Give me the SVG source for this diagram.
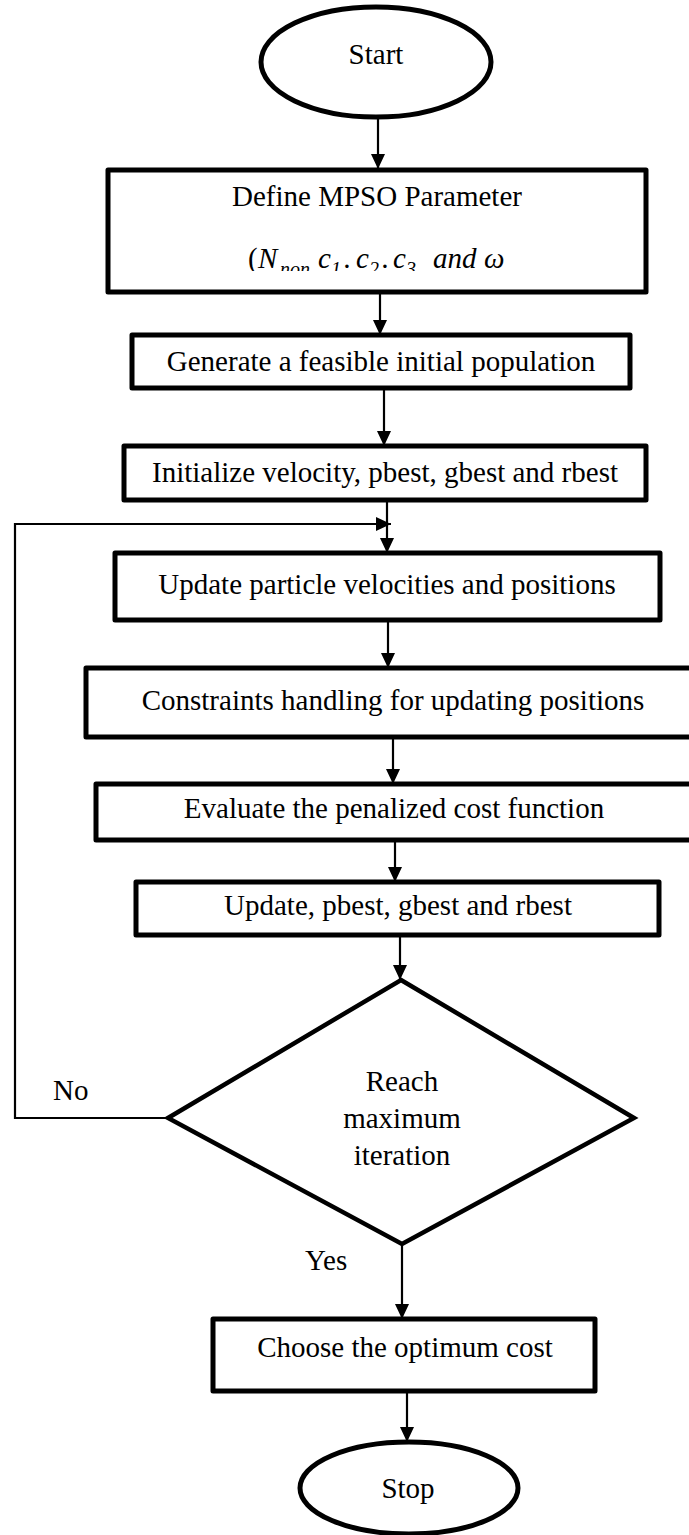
<svg xmlns="http://www.w3.org/2000/svg" width="689" height="1535" viewBox="0 0 689 1535">
  <defs>
    <style>
      .box { fill: #ffffff; stroke: #000000; stroke-width: 5; stroke-linejoin: round; }
      .term { fill: #ffffff; stroke: #000000; stroke-width: 5; }
      .dec { fill: #ffffff; stroke: #000000; stroke-width: 4.5; stroke-linejoin: miter; }
      .lbl { font-family: "Liberation Serif", "Times New Roman", serif; font-size: 29px; fill: #000000; text-anchor: middle; }
      .side { font-family: "Liberation Serif", "Times New Roman", serif; font-size: 29px; fill: #000000; }
      .math { font-family: "Liberation Serif", "Times New Roman", serif; font-style: italic; font-size: 29px; fill: #000000; }
      .sub { font-size: 20px; }
      .conn { fill: none; stroke: #000000; stroke-width: 2.2; }
    </style>
    <marker id="ah" viewBox="0 0 15 14" refX="15" refY="7" markerWidth="15" markerHeight="14" orient="auto" markerUnits="userSpaceOnUse">
      <path d="M0,0 L15,7 L0,14 z" fill="#000000"/>
    </marker>
    <!-- the parameter line sits in a frame that cuts it off just under its baseline -->
    <clipPath id="paramClip">
      <rect x="110" y="230" width="534" height="41"/>
    </clipPath>
  </defs>

  <!-- connectors -->
  <g id="connectors">
    <line class="conn" x1="378" y1="118" x2="378" y2="169" marker-end="url(#ah)"/>
    <line class="conn" x1="380" y1="292" x2="380" y2="335" marker-end="url(#ah)"/>
    <line class="conn" x1="384" y1="388" x2="384" y2="446" marker-end="url(#ah)"/>
    <line class="conn" x1="387" y1="500" x2="387" y2="553" marker-end="url(#ah)"/>
    <line class="conn" x1="388" y1="620" x2="388" y2="668" marker-end="url(#ah)"/>
    <line class="conn" x1="393" y1="737" x2="393" y2="784" marker-end="url(#ah)"/>
    <line class="conn" x1="395" y1="840" x2="395" y2="882" marker-end="url(#ah)"/>
    <line class="conn" x1="400" y1="935" x2="400" y2="980" marker-end="url(#ah)"/>
    <line class="conn" x1="402" y1="1244" x2="402" y2="1319" marker-end="url(#ah)"/>
    <line class="conn" x1="407" y1="1391" x2="407" y2="1442" marker-end="url(#ah)"/>
    <!-- loop back from the decision to the velocity update -->
    <polyline class="conn" points="168,1118 15,1118 15,524 391,524" marker-end="url(#ah)"/>
  </g>

  <g id="start">
    <ellipse class="term" cx="376" cy="62" rx="115" ry="55"/>
    <text class="lbl" x="376" y="64">Start</text>
  </g>

  <g id="define">
    <rect class="box" x="108" y="170" width="538" height="122"/>
    <text class="lbl" x="377" y="206">Define MPSO Parameter</text>
    <g clip-path="url(#paramClip)">
      <text class="math" y="268"><tspan x="248" font-style="normal">(</tspan><tspan x="258">N</tspan><tspan class="sub" x="280" dy="8">non</tspan><tspan x="318" dy="-8">c</tspan><tspan class="sub" x="331" dy="8">1</tspan><tspan x="344" dy="-8">.</tspan><tspan x="356">c</tspan><tspan class="sub" x="369" dy="8">2</tspan><tspan x="382" dy="-8">.</tspan><tspan x="393">c</tspan><tspan class="sub" x="406" dy="8">3</tspan><tspan x="433" dy="-8">and</tspan><tspan x="484">ω</tspan></text>
    </g>
  </g>

  <g id="generate">
    <rect class="box" x="132" y="335" width="498" height="53"/>
    <text class="lbl" x="381" y="371">Generate a feasible initial population</text>
  </g>

  <g id="initialize">
    <rect class="box" x="124" y="446" width="522" height="54"/>
    <text class="lbl" x="385" y="482">Initialize velocity, pbest, gbest and rbest</text>
  </g>

  <g id="update-particles">
    <rect class="box" x="115" y="553" width="545" height="67"/>
    <text class="lbl" x="387" y="594">Update particle velocities and positions</text>
  </g>

  <g id="constraints">
    <rect class="box" x="86" y="668" width="620" height="69"/>
    <text class="lbl" x="393" y="710">Constraints handling for updating positions</text>
  </g>

  <g id="evaluate">
    <rect class="box" x="96" y="784" width="610" height="56"/>
    <text class="lbl" x="394" y="818">Evaluate the penalized cost function</text>
  </g>

  <g id="update-best">
    <rect class="box" x="136" y="882" width="523" height="53"/>
    <text class="lbl" x="398" y="915">Update, pbest, gbest and rbest</text>
  </g>

  <g id="decision">
    <polygon class="dec" points="401,980 634,1118 402,1244 168,1118"/>
    <text class="lbl" x="402" y="1091">Reach</text>
    <text class="lbl" x="402" y="1128">maximum</text>
    <text class="lbl" x="402" y="1165">iteration</text>
  </g>

  <g id="labels">
    <text class="side" x="53" y="1100">No</text>
    <text class="side" x="305" y="1270">Yes</text>
  </g>

  <g id="choose">
    <rect class="box" x="213" y="1319" width="382" height="72"/>
    <text class="lbl" x="405" y="1357">Choose the optimum cost</text>
  </g>

  <g id="stop">
    <ellipse class="term" cx="409" cy="1488" rx="109" ry="46"/>
    <text class="lbl" x="408" y="1498">Stop</text>
  </g>
</svg>
